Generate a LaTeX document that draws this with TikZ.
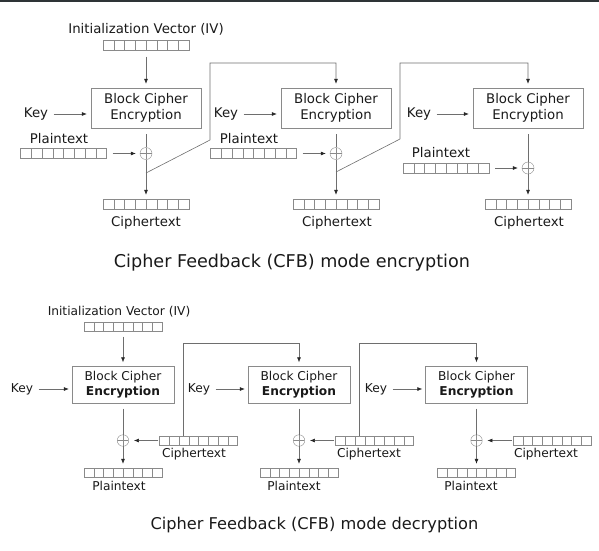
\documentclass[tikz,border=0pt]{standalone}
\usepackage{fontspec}
\setmainfont{DejaVu Sans}
\usetikzlibrary{arrows.meta,calc}
\definecolor{wirecol}{HTML}{6E6E6E}
\definecolor{framecol}{HTML}{8A8A8A}
\definecolor{topbar}{HTML}{2E3436}
\begin{document}
\begin{tikzpicture}
  [x=1pt,y=-1pt,
   every node/.style={font=\fontsize{13.3}{16.5}\selectfont,text=black!90},
   register/.style={draw=framecol,minimum width=#1,minimum height=10pt,inner sep=0pt,
     path picture={\foreach \i in {1,...,7}
       \draw[framecol] ($(path picture bounding box.north west)!\i/8!(path picture bounding box.north east)$)
         -- ($(path picture bounding box.south west)!\i/8!(path picture bounding box.south east)$);}},
   register/.default=86pt,
   cipher/.style={draw=framecol,minimum width=110pt,minimum height=40pt,align=center,inner sep=0pt},
   xor/.style={draw=framecol,circle,minimum size=12pt,inner sep=0pt,
     path picture={\draw[framecol] (path picture bounding box.north) -- (path picture bounding box.south)
       (path picture bounding box.west) -- (path picture bounding box.east);}},
   wire/.style={draw=wirecol,line width=0.6pt},
   arr/.style={wire,-{Latex[length=5pt,width=4pt,color=black!85]},shorten >=4pt}]
  \useasboundingbox (0,0) rectangle (599,550);
  \fill[topbar] (0,0) rectangle (599,1.5);

  % encryption
  \node (ivl) at (146,29.5) {Initialization Vector (IV)};
  \node[register] (iv) at (146,45.5) {};
  \node[cipher] (enc1) at (146,108) {Block Cipher\\Encryption};
  \node[cipher] (enc2) at (336,108) {Block Cipher\\Encryption};
  \node[cipher] (enc3) at (528,108) {Block Cipher\\Encryption};
  \node (key1) at (36,114) {Key};
  \node (key2) at (226,114) {Key};
  \node (key3) at (419,114) {Key};
  \node (ptl1) at (59,139) {Plaintext};
  \node (ptl2) at (249,139) {Plaintext};
  \node (ptl3) at (441,153) {Plaintext};
  \node[register] (pt1) at (63.5,153.5) {};
  \node[register] (pt2) at (253.5,153.5) {};
  \node[register] (pt3) at (446,168) {};
  \node[xor] (x1) at (146,153.5) {};
  \node[xor] (x2) at (336,153.5) {};
  \node[xor] (x3) at (528,168) {};
  \node[register] (ct1) at (146,204) {};
  \node[register] (ct2) at (336,204) {};
  \node[register] (ct3) at (528,204) {};
  \node (ctl1) at (146,222.5) {Ciphertext};
  \node (ctl2) at (337,222.5) {Ciphertext};
  \node (ctl3) at (529,222.5) {Ciphertext};
  \coordinate (fb1) at (146,173);
  \coordinate (fb1a) at (210,140);
  \coordinate (fb1b) at (210,63);
  \coordinate (fb2) at (336,172);
  \coordinate (fb2a) at (400,139);
  \coordinate (fb2b) at (400,63);

  \draw[arr,shorten <=6pt] (iv) -- (enc1);
  \foreach \k/\e in {key1/enc1,key2/enc2,key3/enc3}
    \draw[arr,shorten <=2pt] (\k) -- (\k -| \e.west);
  \foreach \e/\x/\c in {enc1/x1/ct1,enc2/x2/ct2,enc3/x3/ct3}{
    \draw[wire,shorten <=6pt] (\e) -- (\x);
    \draw[arr] (\x) -- (\c);}
  \foreach \p/\x in {pt1/x1,pt2/x2,pt3/x3}
    \draw[arr,shorten <=6pt] (\p) -- (\x);
  \draw[arr] (fb1) -- (fb1a) -- (fb1b) -| (enc2);
  \draw[arr] (fb2) -- (fb2a) -- (fb2b) -| (enc3);

  \node[font=\fontsize{17.6}{20}\selectfont] (enct) at (292,262.5) {Cipher Feedback (CFB) mode encryption};

  % decryption
  \begin{scope}[every node/.append style={font=\fontsize{12.2}{15}\selectfont},
    dreg/.style={register=78pt,minimum height=9pt},
    dcipher/.style={cipher,minimum width=102pt,minimum height=37pt},
    dxor/.style={xor,minimum size=11.5pt}]
  \node (divl) at (119,312) {Initialization Vector (IV)};
  \node[dreg] (div) at (123,327) {};
  \node[dcipher] (dec1) at (123,385) {Block Cipher\\\textbf{Encryption}};
  \node[dcipher] (dec2) at (299,385) {Block Cipher\\\textbf{Encryption}};
  \node[dcipher] (dec3) at (476.5,385) {Block Cipher\\\textbf{Encryption}};
  \node (dkey1) at (22,389) {Key};
  \node (dkey2) at (199,389) {Key};
  \node (dkey3) at (376,389) {Key};
  \node[dxor] (dx1) at (123,440.5) {};
  \node[dxor] (dx2) at (299,440.5) {};
  \node[dxor] (dx3) at (476.5,440.5) {};
  \node[dreg] (dct1) at (198.5,440.5) {};
  \node[dreg] (dct2) at (374.5,440.5) {};
  \node[dreg] (dct3) at (552,440.5) {};
  \node (dctl1) at (194,454) {Ciphertext};
  \node (dctl2) at (369,454) {Ciphertext};
  \node (dctl3) at (546,454) {Ciphertext};
  \node[dreg] (dpt1) at (123,472.5) {};
  \node[dreg] (dpt2) at (299,472.5) {};
  \node[dreg] (dpt3) at (476.5,472.5) {};
  \node (dptl1) at (119,486) {Plaintext};
  \node (dptl2) at (294,486) {Plaintext};
  \node (dptl3) at (471,486) {Plaintext};
  \coordinate (dfb1) at (183,343);
  \coordinate (dfb2) at (359,343);

  \draw[arr,shorten <=5pt] (div) -- (dec1);
  \foreach \k/\e in {dkey1/dec1,dkey2/dec2,dkey3/dec3}
    \draw[arr,shorten <=2pt,shorten >=3pt] (\k) -- (\k -| \e.west);
  \foreach \e/\x/\p in {dec1/dx1/dpt1,dec2/dx2/dpt2,dec3/dx3/dpt3}{
    \draw[wire,shorten <=5pt] (\e) -- (\x);
    \draw[arr] (\x) -- (\p);}
  \foreach \c/\x in {dct1/dx1,dct2/dx2,dct3/dx3}
    \draw[arr,shorten <=1pt,shorten >=5pt] (\c) -- (\x);
  \draw[arr] (dfb1 |- dct1.north) -- (dfb1) -| (dec2);
  \draw[arr] (dfb2 |- dct2.north) -- (dfb2) -| (dec3);

  \node[font=\fontsize{16.2}{19}\selectfont] (dect) at (314.5,525) {Cipher Feedback (CFB) mode decryption};
  \end{scope}
\end{tikzpicture}
\end{document}
